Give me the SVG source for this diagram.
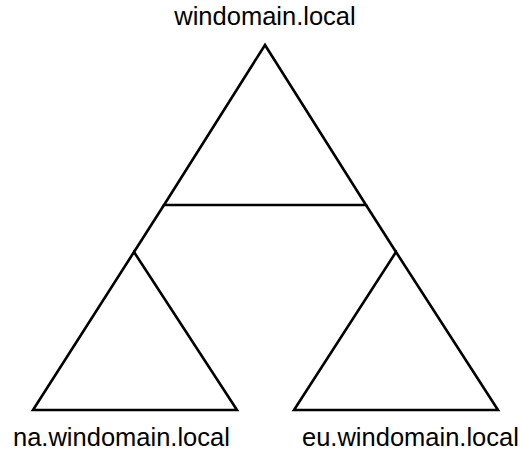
<svg xmlns="http://www.w3.org/2000/svg" width="521" height="450" viewBox="0 0 521 450">
<style>
.tri{fill:none;stroke:#000;stroke-width:2.6;stroke-linejoin:miter}
.con{fill:none;stroke:#000;stroke-width:2.6}
.lbl{font-family:"Liberation Sans",Arial,sans-serif;font-size:25.5px;fill:#000}
</style>
<rect width="521" height="450" fill="#fff"/>
<g id="connectors">
<line class="con" x1="164" y1="205" x2="134" y2="252"/>
<line class="con" x1="366" y1="205" x2="396" y2="252"/>
</g>
<g id="root">
<polygon class="tri" points="265,45 164,205 366,205"/>
<text class="lbl" x="265" y="25" text-anchor="middle">windomain.local</text>
</g>
<g id="na">
<polygon class="tri" points="134,252 33,410 237,410"/>
<text class="lbl" x="13" y="446">na.windomain.local</text>
</g>
<g id="eu">
<polygon class="tri" points="396,252 294,410 498,410"/>
<text class="lbl" x="302" y="446">eu.windomain.local</text>
</g>
</svg>
